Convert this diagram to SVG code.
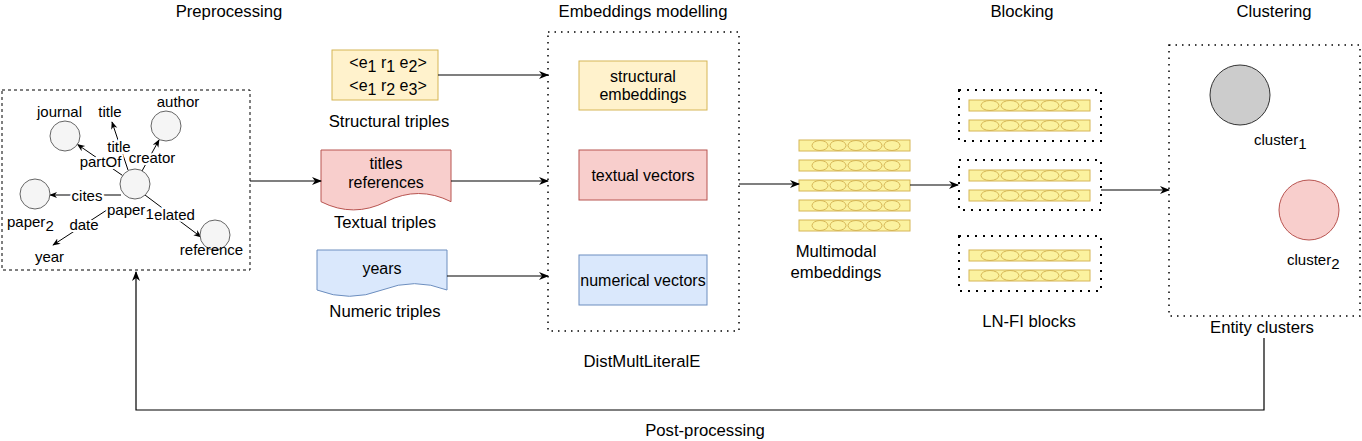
<svg xmlns="http://www.w3.org/2000/svg" width="1362" height="441" viewBox="0 0 1362 441">
<style>
text{font-family:"Liberation Sans",Arial,sans-serif;fill:#000}
.t{font-size:16.7px;text-anchor:middle}
.b{font-size:16px;text-anchor:middle}
.s{font-size:15px}
.m{text-anchor:middle}
.lbl{paint-order:stroke;stroke:#fff;stroke-width:4px}
.conn{fill:none;stroke:#000;stroke-width:1.2}
.pc{fill:none;stroke:#000;stroke-width:1}
.nd{fill:#f5f5f5;stroke:#666;stroke-width:1}
.bar{fill:#fbf29f;stroke:#d6b656;stroke-width:1}
.ell{fill:none;stroke:#d6b656;stroke-width:1}
.dot{fill:none;stroke:#000;stroke-width:2;stroke-dasharray:2 6}
</style>
<defs>
<marker id="arr" viewBox="0 0 10 10" refX="9" refY="5" markerWidth="10" markerHeight="10" markerUnits="userSpaceOnUse" orient="auto"><path d="M0,1 L10,5 L0,9 L3,5 Z" fill="#000"/></marker>
<marker id="sarr" viewBox="0 0 10 10" refX="9" refY="5" markerWidth="8" markerHeight="8" markerUnits="userSpaceOnUse" orient="auto"><path d="M0,1 L10,5 L0,9 L3,5 Z" fill="#000"/></marker>
<g id="bar">
<rect class="bar" x="0" y="0" width="111" height="11"/>
<ellipse class="ell" cx="21" cy="5.5" rx="8" ry="5"/><ellipse class="ell" cx="39" cy="5.5" rx="8" ry="5"/><ellipse class="ell" cx="57" cy="5.5" rx="8" ry="5"/><ellipse class="ell" cx="75" cy="5.5" rx="8" ry="5"/><ellipse class="ell" cx="93" cy="5.5" rx="8" ry="5"/>
</g>
<g id="bbar">
<rect class="bar" x="0" y="0" width="121" height="11"/>
<ellipse class="ell" cx="21" cy="5.5" rx="9" ry="5"/><ellipse class="ell" cx="41" cy="5.5" rx="9" ry="5"/><ellipse class="ell" cx="61" cy="5.5" rx="9" ry="5"/><ellipse class="ell" cx="81" cy="5.5" rx="9" ry="5"/><ellipse class="ell" cx="101" cy="5.5" rx="9" ry="5"/>
</g>
</defs>
<rect width="1362" height="441" fill="#fff"/>

<g id="titles">
<text class="t" x="229" y="17">Preprocessing</text>
<text class="t" x="643" y="17">Embeddings modelling</text>
<text class="t" x="1022" y="17">Blocking</text>
<text class="t" x="1274" y="17">Clustering</text>
</g>

<g id="preprocessing">
<rect x="2" y="90" width="248" height="180" fill="none" stroke="#000" stroke-width="1" stroke-dasharray="3 3"/>
<g id="pp-edges">
<path class="pc" d="M122.6,175.5 L77.5,144.5" marker-end="url(#sarr)"/>
<path class="pc" d="M128,170 L112,122" marker-end="url(#sarr)"/>
<path class="pc" d="M142,171 L159,140" marker-end="url(#sarr)"/>
<path class="pc" d="M121,195 L50,195" marker-end="url(#sarr)"/>
<path class="pc" d="M113,206 L53,245" marker-end="url(#sarr)"/>
<path class="pc" d="M145,195 L201,237" marker-end="url(#sarr)"/>
</g>
<circle class="nd" cx="65" cy="136" r="15"/>
<circle class="nd" cx="166" cy="126" r="15"/>
<circle class="nd" cx="135" cy="184" r="15"/>
<circle class="nd" cx="35" cy="194" r="15"/>
<circle class="nd" cx="215" cy="235" r="15"/>
<text class="s m" x="59.5" y="117">journal</text>
<text class="s m" x="110" y="117">title</text>
<text class="s m" x="178" y="107">author</text>
<text class="s m lbl" x="119" y="152">title</text>
<text class="s m lbl" x="100.5" y="167">partOf</text>
<text class="s m lbl" x="152" y="163">creator</text>
<text class="s m lbl" x="87" y="201">cites</text>
<text class="s m lbl" x="84" y="230">date</text>
<text class="s m lbl" x="174.5" y="220">elated</text>
<text class="s lbl" x="107" y="215">paper<tspan dy="4">1</tspan></text>
<text class="s" x="7" y="227">paper<tspan dy="4">2</tspan></text>
<text class="s m" x="49.5" y="262">year</text>
<text class="s m" x="211.5" y="255">reference</text>
</g>

<g id="structural-triples">
<rect x="332" y="50" width="106" height="50" fill="#fff2cc" stroke="#d6b656"/>
<text class="b" x="388" y="68">&lt;e<tspan dy="4">1</tspan><tspan dy="-4"> r</tspan><tspan dy="4">1</tspan><tspan dy="-4"> e</tspan><tspan dy="4">2</tspan><tspan dy="-4">&gt;</tspan></text>
<text class="b" x="388" y="91">&lt;e<tspan dy="4">1</tspan><tspan dy="-4"> r</tspan><tspan dy="4">2</tspan><tspan dy="-4"> e</tspan><tspan dy="4">3</tspan><tspan dy="-4">&gt;</tspan></text>
<text class="t" x="389" y="127">Structural triples</text>
</g>

<g id="textual-triples">
<path d="M321,150 H451 V201.7 Q418.5,185.3 386,201.7 Q353.5,218.1 321,201.7 Z" fill="#f8cecc" stroke="#b85450"/>
<text class="b" x="386" y="169">titles</text>
<text class="b" x="386" y="188">references</text>
<text class="t" x="385" y="228">Textual triples</text>
</g>

<g id="numeric-triples">
<path d="M317,250 H447 V290 Q414.5,277.3 382,290 Q349.5,302.6 317,290 Z" fill="#dae8fc" stroke="#6c8ebf"/>
<text class="b" x="382" y="274">years</text>
<text class="t" x="385" y="317">Numeric triples</text>
</g>

<g id="embeddings">
<rect x="548" y="32" width="191" height="299" fill="none" stroke="#000" stroke-width="1.5" stroke-dasharray="1.5 5"/>
<rect x="579" y="61" width="128" height="49" fill="#fff2cc" stroke="#d6b656"/>
<text class="b" x="643" y="82">structural</text>
<text class="b" x="643" y="100">embeddings</text>
<rect x="579" y="150" width="128" height="50" fill="#f8cecc" stroke="#b85450"/>
<text class="b" x="643" y="181">textual vectors</text>
<rect x="579" y="255" width="128" height="50" fill="#dae8fc" stroke="#6c8ebf"/>
<text class="b" x="643" y="286">numerical vectors</text>
<text class="t" x="642" y="367">DistMultLiteralE</text>
</g>

<g id="multimodal">
<use href="#bar" x="799" y="140"/>
<use href="#bar" x="799" y="160"/>
<use href="#bar" x="799" y="180"/>
<use href="#bar" x="799" y="200"/>
<use href="#bar" x="799" y="220"/>
<text class="t" x="836" y="257">Multimodal</text>
<text class="t" x="836" y="278">embeddings</text>
</g>

<g id="blocks">
<rect class="dot" x="959" y="90" width="142" height="51"/>
<use href="#bbar" x="969" y="100"/>
<use href="#bbar" x="969" y="120"/>
<rect class="dot" x="959" y="160" width="142" height="50"/>
<use href="#bbar" x="969" y="170"/>
<use href="#bbar" x="969" y="190"/>
<rect class="dot" x="959" y="236" width="142" height="55"/>
<use href="#bbar" x="969" y="250"/>
<use href="#bbar" x="969" y="270"/>
<text class="t" x="1029" y="327">LN-FI blocks</text>
</g>

<g id="clusters">
<rect x="1169" y="45" width="191" height="271" fill="none" stroke="#000" stroke-width="1.5" stroke-dasharray="1.5 5"/>
<circle cx="1240" cy="95" r="30" fill="#cccccc" stroke="#333"/>
<text class="s" x="1254" y="145">cluster<tspan dy="4">1</tspan></text>
<circle cx="1309" cy="210" r="30" fill="#f8cecc" stroke="#b85450"/>
<text class="s" x="1287" y="265">cluster<tspan dy="4">2</tspan></text>
<text class="t" x="1262" y="333">Entity clusters</text>
</g>

<g id="connectors">
<path class="conn" d="M438,75 H548" marker-end="url(#arr)"/>
<path class="conn" d="M250,181 H321" marker-end="url(#arr)"/>
<path class="conn" d="M451,181 H548" marker-end="url(#arr)"/>
<path class="conn" d="M447,276 H548" marker-end="url(#arr)"/>
<path class="conn" d="M739,184 H799" marker-end="url(#arr)"/>
<path class="conn" d="M910,185 H958" marker-end="url(#arr)"/>
<path class="conn" d="M1101,190 H1169" marker-end="url(#arr)"/>
<path class="conn" d="M1264,338 V410 H136 V272" marker-end="url(#arr)"/>
<text class="t" x="705" y="436">Post-processing</text>
</g>
</svg>
